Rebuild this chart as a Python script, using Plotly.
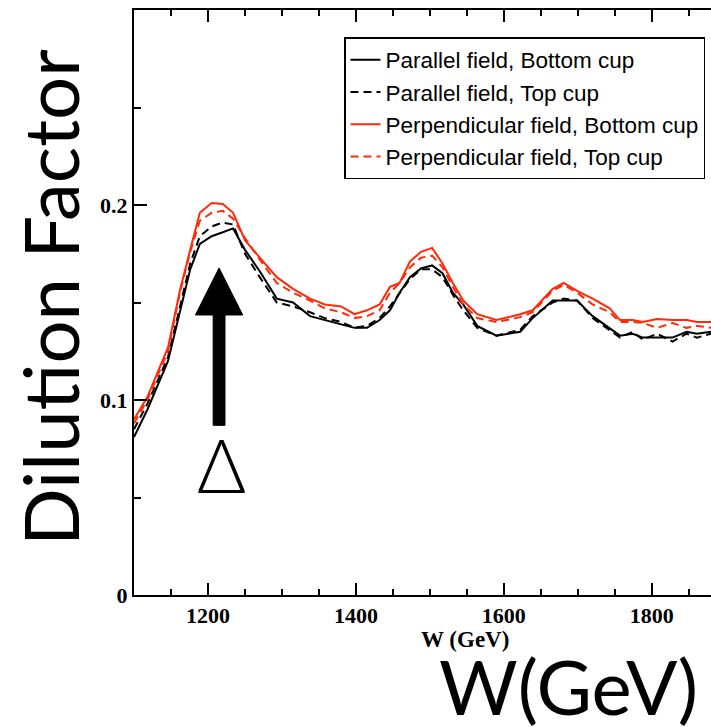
import plotly.graph_objects as go

W = [1100, 1118, 1146, 1162, 1176, 1189, 1205, 1220, 1234, 1250, 1270, 1293, 1315, 1338, 1358,
     1380, 1398, 1415, 1432, 1446, 1459, 1473, 1488, 1503, 1517, 1531, 1545, 1564, 1590, 1622,
     1639, 1666, 1681, 1699, 1720, 1743, 1757, 1774, 1788, 1807, 1828, 1847, 1861, 1880]

par_bottom = [0.081, 0.095, 0.120, 0.145, 0.167, 0.180, 0.184, 0.186, 0.188, 0.177, 0.166, 0.152,
              0.150, 0.143, 0.141, 0.139, 0.137, 0.137, 0.141, 0.146, 0.155, 0.163, 0.1675, 0.169,
              0.165, 0.155, 0.149, 0.138, 0.133, 0.135, 0.142, 0.151, 0.151, 0.151, 0.143, 0.137,
              0.133, 0.134, 0.132, 0.132, 0.132, 0.135, 0.134, 0.135]
par_top = [0.085, 0.098, 0.122, 0.148, 0.170, 0.184, 0.189, 0.191, 0.190, 0.175, 0.163, 0.150,
           0.148, 0.145, 0.142, 0.140, 0.137, 0.138, 0.142, 0.148, 0.155, 0.162, 0.167, 0.167,
           0.163, 0.154, 0.146, 0.137, 0.133, 0.136, 0.143, 0.150, 0.152, 0.151, 0.142, 0.136,
           0.132, 0.135, 0.131, 0.134, 0.130, 0.134, 0.132, 0.134]
perp_bottom = [0.090, 0.1015, 0.127, 0.156, 0.177, 0.196, 0.201, 0.2005, 0.196, 0.182, 0.173, 0.163,
               0.157, 0.152, 0.149, 0.148, 0.144, 0.146, 0.149, 0.158, 0.160, 0.171, 0.176, 0.178,
               0.170, 0.160, 0.151, 0.144, 0.141, 0.144, 0.146, 0.157, 0.160, 0.156, 0.152, 0.147,
               0.141, 0.141, 0.140, 0.1415, 0.141, 0.141, 0.140, 0.140]
perp_top = [0.088, 0.100, 0.125, 0.155, 0.176, 0.192, 0.196, 0.197, 0.193, 0.183, 0.172, 0.160,
            0.155, 0.151, 0.147, 0.145, 0.142, 0.143, 0.146, 0.155, 0.160, 0.168, 0.173, 0.174,
            0.168, 0.158, 0.149, 0.142, 0.140, 0.1425, 0.145, 0.156, 0.159, 0.155, 0.149, 0.145,
            0.140, 0.140, 0.1395, 0.137, 0.1395, 0.137, 0.138, 0.137]

names = ["Parallel field, Bottom cup", "Parallel field, Top cup",
         "Perpendicular field, Bottom cup", "Perpendicular field, Top cup"]

x_ticks = [1200, 1400, 1600, 1800]
x_minor = [1150, 1250, 1300, 1350, 1450, 1500, 1550, 1650, 1700, 1750, 1850]
y_ticks = [0, 0.1, 0.2]
y_ticklabels = ["0", "0.1", "0.2"]
y_minor = [0.05, 0.15, 0.25]

RED = "#ff2a0a"
series = [(par_bottom, "black", "solid"), (par_top, "black", "8px,5px"),
          (perp_bottom, RED, "solid"), (perp_top, RED, "8px,5px")]

fig = go.Figure()
for (vals, col, dash), nm in zip(series, names):
    fig.add_trace(go.Scatter(x=W, y=vals, mode="lines", name=nm,
                             line=dict(color=col, width=2, dash=dash)))

tickfont = dict(family="Liberation Serif", size=22, color="black", weight="bold")

# plot area: x 134..711 px, y 10..595 px
L, R, T, B = 134, 711, 10, 595
def px(xp):
    return (xp - L) / (R - L)
def py(yp):
    return (B - yp) / (B - T)

fig.update_layout(
    width=711, height=727,
    margin=dict(l=L, r=711 - R, t=T, b=727 - B),
    paper_bgcolor="white", plot_bgcolor="white",
    showlegend=True,
    legend=dict(x=px(705), xanchor="right", y=py(108), yanchor="middle",
                bordercolor="black", borderwidth=1.5, bgcolor="white",
                font=dict(family="Liberation Sans", size=22.5, color="black"),
                itemwidth=30, tracegroupgap=0),
    xaxis=dict(range=[1100, 1880], showgrid=False, zeroline=False,
               showline=True, linecolor="black", linewidth=2, mirror="ticks",
               ticks="inside", ticklen=12, tickwidth=2, tickcolor="black",
               tickvals=x_ticks, ticktext=[str(v) for v in x_ticks],
               tickfont=tickfont,
               minor=dict(tickvals=x_minor, ticks="inside", ticklen=6, tickwidth=2,
                          tickcolor="black")),
    yaxis=dict(range=[0, 0.3], showgrid=False, zeroline=False,
               showline=True, linecolor="black", linewidth=2, mirror=False,
               ticks="inside", ticklen=13, tickwidth=2, tickcolor="black",
               tickvals=y_ticks, ticktext=y_ticklabels,
               tickfont=tickfont,
               minor=dict(tickvals=y_minor, ticks="inside", ticklen=7,
                          tickwidth=2, tickcolor="black")),
)

# Arrow marking the Delta resonance
fig.add_shape(type="path", xref="x", yref="y",
              path="M 1207,0.087 L 1223,0.087 L 1223,0.1436 L 1247,0.1436 L 1215,0.1677 "
                   "L 1183,0.1436 L 1207,0.1436 Z",
              fillcolor="black", line=dict(color="black", width=1))

fig.add_annotation(x=px(221), y=py(511), xref="paper", yref="paper", text="Δ", showarrow=False,
                   xanchor="center", yanchor="bottom",
                   font=dict(family="Lato", size=75, color="black", weight=300))

fig.add_annotation(x=px(465), y=py(639), xref="paper", yref="paper", text="W (GeV)",
                   showarrow=False, xanchor="center", yanchor="middle",
                   font=dict(family="Liberation Serif", size=23, color="black", weight="bold"))

fig.add_annotation(x=px(700), y=py(686), xref="paper", yref="paper", text="W(GeV)",
                   showarrow=False, xanchor="right", yanchor="middle",
                   font=dict(family="Lato", size=76, color="black"))

fig.add_annotation(x=px(49), y=py(298), xref="paper", yref="paper", text="Dilution Factor",
                   showarrow=False, textangle=-90, xanchor="center", yanchor="middle",
                   font=dict(family="Lato", size=76, color="black"))

fig.write_html("out.html")
